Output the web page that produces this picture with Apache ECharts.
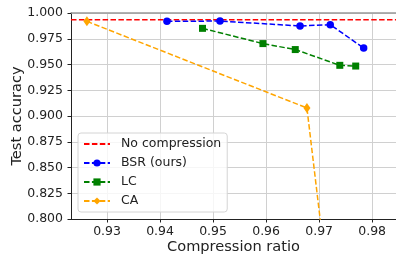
<!DOCTYPE html>
<html>
<head>
<meta charset="utf-8">
<script src="https://cdn.jsdelivr.net/npm/echarts@6/dist/echarts.min.js"></script>
<style>
    html, body { margin: 0; padding: 0; background: #fff; }
    #chart { width: 396px; height: 254px; }
</style>
</head>
<body>
<div id="chart"></div>
<script>
    // 读图估计的数据
    var xMin = 0.9232, xMax = 0.9845;
    var noCompression = 0.9935;
    var bsrX = [0.9413, 0.9513, 0.9664, 0.9721, 0.9784];
    var bsrY = [0.9919, 0.9922, 0.9874, 0.9887, 0.9660];
    var lcX = [0.9480, 0.9594, 0.9655, 0.9739, 0.9769];
    var lcY = [0.9851, 0.9703, 0.9645, 0.9492, 0.9485];
    var caX = [0.9262, 0.9677, 0.9725];
    var caY = [0.9919, 0.9078, 0.7000];
    var xTicks = [0.93, 0.94, 0.95, 0.96, 0.97, 0.98];

    function pairs(xs, ys) {
        return xs.map(function (x, i) { return [x, ys[i]]; });
    }

    var font = 'DejaVu Sans';
    var dash = [5.5, 2.4];

    var myChart = echarts.init(document.getElementById('chart'));
    myChart.setOption({
        animation: false,
        grid: { left: 71, right: 0, top: 13, bottom: 35, outerBoundsMode: 'none', containLabel: false },
        legend: {
            orient: 'vertical',
            left: 78, top: 133,
            padding: [4, 6, 4, 5],
            itemWidth: 26, itemHeight: 9, itemGap: 5,
            backgroundColor: 'rgba(255,255,255,0.8)',
            borderColor: '#d4d4d4', borderWidth: 1, borderRadius: 3,
            textStyle: { fontFamily: font, fontSize: 12.5, lineHeight: 14, color: '#222', padding: [0, 0, 0, 6] },
            data: [
                { name: 'No compression', itemStyle: { opacity: 0 } },
                'BSR (ours)', 'LC', 'CA'
            ]
        },
        xAxis: [{
            type: 'value',
            min: xMin, max: xMax,
            name: 'Compression ratio', nameLocation: 'middle', nameGap: 21, nameMoveOverlap: false,
            nameTextStyle: { fontFamily: font, fontSize: 14.6, color: '#222' },
            axisLine: { lineStyle: { color: '#222', width: 1 } },
            axisTick: { show: true, length: 3.5, customValues: xTicks, lineStyle: { color: '#222' } },
            axisLabel: {
                customValues: xTicks, margin: 6,
                fontFamily: font, fontSize: 12.5, color: '#222',
                formatter: function (v) { return v.toFixed(2); }
            },
            splitLine: { show: true, lineStyle: { color: '#d0d0d0', width: 1 } }
        }, {
            type: 'value', position: 'top',
            min: xMin, max: xMax,
            axisLine: { show: true, lineStyle: { color: '#999', width: 1.5 } },
            axisTick: { show: false }, axisLabel: { show: false }, splitLine: { show: false }
        }],
        yAxis: {
            type: 'value',
            min: 0.8, max: 1.0, interval: 0.025,
            name: 'Test accuracy', nameLocation: 'middle', nameGap: 46, nameMoveOverlap: false,
            nameTextStyle: { fontFamily: font, fontSize: 14.6, color: '#222' },
            axisLine: { show: true, lineStyle: { color: '#222', width: 1 } },
            axisTick: { show: true, length: 3.5, lineStyle: { color: '#222' } },
            axisLabel: {
                margin: 8, fontFamily: font, fontSize: 12.5, color: '#222',
                formatter: function (v) { return v.toFixed(3); }
            },
            splitLine: { show: true, lineStyle: { color: '#d0d0d0', width: 1 } }
        },
        series: [
            {
                name: 'No compression', type: 'line',
                data: [[xMin, noCompression], [xMax, noCompression]],
                symbol: 'none',
                itemStyle: { color: '#ff0000' },
                lineStyle: { color: '#ff0000', type: dash, width: 1.5 }
            },
            {
                name: 'BSR (ours)', type: 'line', data: pairs(bsrX, bsrY),
                symbol: 'circle', symbolSize: 7.5,
                itemStyle: { color: '#0000ff' },
                lineStyle: { color: '#0000ff', type: dash, width: 1.5 }
            },
            {
                name: 'LC', type: 'line', data: pairs(lcX, lcY),
                symbol: 'rect', symbolSize: 7,
                itemStyle: { color: '#008000' },
                lineStyle: { color: '#008000', type: dash, width: 1.5 }
            },
            {
                name: 'CA', type: 'line', data: pairs(caX, caY),
                symbol: 'diamond', symbolSize: [7, 10],
                itemStyle: { color: '#ffa500' },
                lineStyle: { color: '#ffa500', type: dash, width: 1.5 }
            }
        ]
    });
</script>
</body>
</html>
